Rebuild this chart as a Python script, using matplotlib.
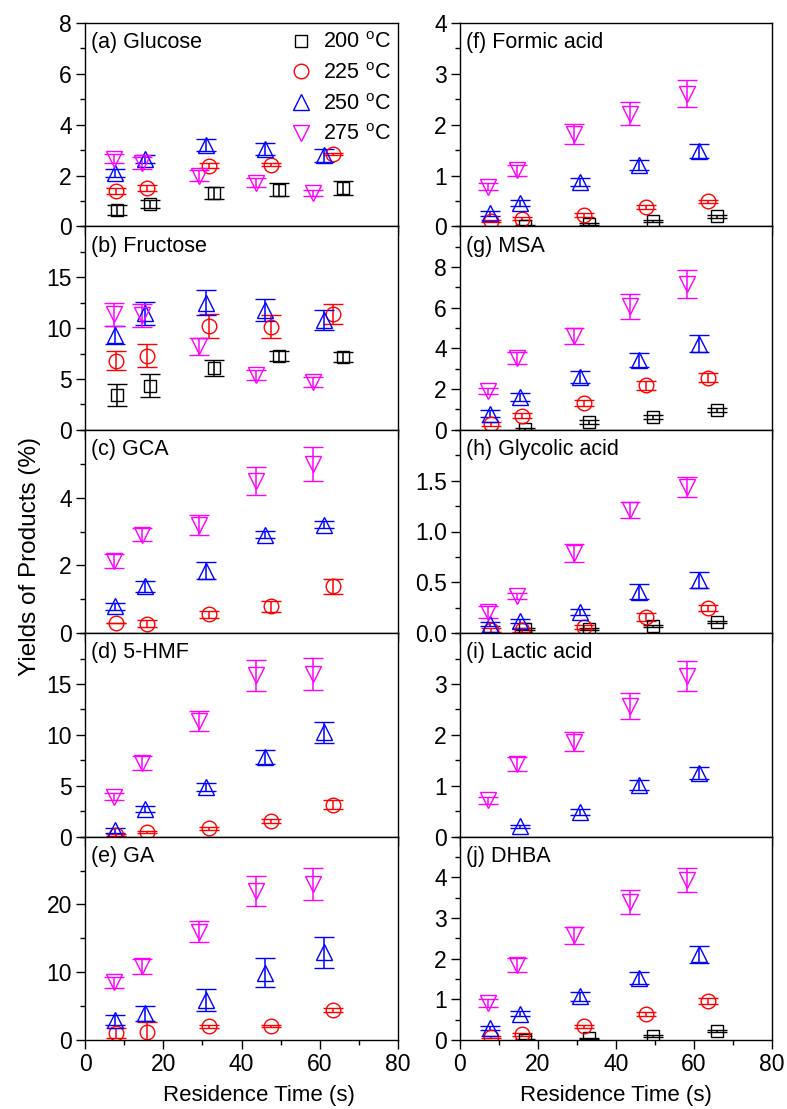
import numpy as np
import matplotlib
matplotlib.use("Agg")
import matplotlib.pyplot as plt
from matplotlib.ticker import MultipleLocator, FixedLocator, FormatStrFormatter
from matplotlib.lines import Line2D

plt.rcParams['font.family'] = ['Liberation Sans', 'DejaVu Sans']
plt.rcParams['mathtext.default'] = 'regular'

nan = np.nan

# Reaction temperatures and their plotting styles
temperatures = ['200', '225', '250', '275']
colors = ['#000000', '#ff0000', '#0000ff', '#ff00ff']
markers = ['s', 'o', '^', 'v']
marker_sizes = [9, 10.5, 12, 12]

# Residence times (s) at each temperature
time_200 = [8.3, 16.6, 33.0, 49.6, 66.0]
time_225 = [7.9, 15.8, 31.8, 47.6, 63.5]
time_250 = [7.7, 15.4, 30.8, 46.0, 61.2]
time_275 = [7.3, 14.6, 29.2, 43.7, 58.2]
times = [time_200, time_225, time_250, time_275]

# Product yields (%) and standard deviations; rows = 200, 225, 250, 275 °C
glucose = [[0.65, 0.89, 1.31, 1.44, 1.51],
           [1.38, 1.51, 2.39, 2.43, 2.85],
           [2.10, 2.65, 3.19, 3.04, 2.80],
           [2.67, 2.49, 2.00, 1.72, 1.30]]
glucose_err = [[0.20, 0.15, 0.22, 0.25, 0.27],
               [0.12, 0.13, 0.10, 0.05, 0.03],
               [0.16, 0.15, 0.23, 0.24, 0.26],
               [0.19, 0.22, 0.20, 0.18, 0.12]]

fructose = [[3.4, 4.35, 6.1, 7.25, 7.15],
            [6.8, 7.3, 10.2, 10.15, 11.4],
            [9.35, 11.45, 12.5, 11.8, 10.8],
            [11.35, 11.25, 8.2, 5.35, 4.7]]
fructose_err = [[1.1, 1.1, 0.8, 0.5, 0.5],
                [0.9, 1.1, 1.2, 1.1, 1.0],
                [0.9, 1.1, 1.2, 1.1, 1.0],
                [1.1, 1.1, 0.8, 0.5, 0.45]]

gca = [[nan, nan, nan, nan, nan],
       [0.31, 0.28, 0.56, 0.79, 1.38],
       [0.79, 1.39, 1.84, 2.91, 3.20],
       [2.13, 2.91, 3.20, 4.49, 4.98]]
gca_err = [[0, 0, 0, 0, 0],
           [0.0, 0.10, 0.10, 0.15, 0.22],
           [0.10, 0.16, 0.25, 0.11, 0.10],
           [0.20, 0.20, 0.30, 0.40, 0.50]]

hmf = [[nan, nan, nan, nan, nan],
       [0.2, 0.45, 0.8, 1.55, 3.15],
       [0.6, 2.75, 4.87, 7.8, 10.25],
       [3.9, 7.2, 11.35, 15.85, 16.0]]
hmf_err = [[0, 0, 0, 0, 0],
           [0.1, 0.1, 0.15, 0.2, 0.4],
           [0.2, 0.3, 0.4, 0.7, 1.0],
           [0.35, 0.7, 1.0, 1.5, 1.55]]

ga = [[nan, nan, nan, nan, nan],
      [1.0, 1.2, 2.0, 2.0, 4.45],
      [2.95, 3.95, 5.9, 9.95, 12.95],
      [8.5, 10.9, 16.0, 22.0, 23.0]]
ga_err = [[0, 0, 0, 0, 0],
          [0.7, 1.5, 0.2, 0.15, 0.3],
          [0.8, 1.1, 1.6, 2.2, 2.3],
          [0.8, 1.1, 1.6, 2.2, 2.3]]

formic = [[nan, 0.0, 0.05, 0.11, 0.20],
          [0.11, 0.15, 0.23, 0.38, 0.49],
          [0.26, 0.46, 0.87, 1.20, 1.49],
          [0.78, 1.10, 1.82, 2.22, 2.61]]
formic_err = [[0, 0.02, 0.02, 0.02, 0.03],
              [0.02, 0.03, 0.04, 0.04, 0.03],
              [0.05, 0.06, 0.08, 0.10, 0.14],
              [0.07, 0.10, 0.19, 0.22, 0.26]]

msa = [[nan, 0.05, 0.38, 0.63, 0.96],
       [0.30, 0.69, 1.31, 2.18, 2.57],
       [0.78, 1.60, 2.58, 3.45, 4.23],
       [1.92, 3.53, 4.62, 6.07, 7.18]]
msa_err = [[0, 0.05, 0.08, 0.08, 0.10],
           [0.10, 0.12, 0.15, 0.20, 0.22],
           [0.17, 0.20, 0.29, 0.34, 0.42],
           [0.14, 0.30, 0.40, 0.60, 0.70]]

glycolic = [[nan, 0.04, 0.04, 0.07, 0.11],
            [0.03, 0.03, 0.065, 0.16, 0.245],
            [0.09, 0.12, 0.21, 0.41, 0.52],
            [0.21, 0.37, 0.79, 1.21, 1.44]]
glycolic_err = [[0, 0.01, 0.01, 0.01, 0.01],
                [0.02, 0.02, 0.02, 0.04, 0.03],
                [0.02, 0.02, 0.03, 0.07, 0.08],
                [0.06, 0.03, 0.09, 0.08, 0.10]]

lactic = [[nan, nan, nan, nan, nan],
          [nan, nan, nan, nan, nan],
          [nan, 0.20, 0.49, 1.02, 1.25],
          [0.71, 1.43, 1.87, 2.57, 3.16]]
lactic_err = [[0, 0, 0, 0, 0],
              [0, 0, 0, 0, 0],
              [0, 0.03, 0.06, 0.10, 0.12],
              [0.07, 0.14, 0.18, 0.25, 0.30]]

dhba = [[nan, 0.0, 0.04, 0.10, 0.22],
        [0.07, 0.14, 0.34, 0.64, 0.96],
        [0.29, 0.65, 1.07, 1.52, 2.11],
        [0.90, 1.84, 2.57, 3.39, 3.93]]
dhba_err = [[0, 0.02, 0.02, 0.02, 0.03],
            [0.03, 0.04, 0.04, 0.05, 0.07],
            [0.05, 0.07, 0.10, 0.15, 0.21],
            [0.10, 0.18, 0.20, 0.30, 0.30]]

panel_titles = ['(a) Glucose', '(b) Fructose', '(c) GCA', '(d) 5-HMF', '(e) GA',
                '(f) Formic acid', '(g) MSA', '(h) Glycolic acid', '(i) Lactic acid', '(j) DHBA']
panel_data = [glucose, fructose, gca, hmf, ga, formic, msa, glycolic, lactic, dhba]
panel_err = [glucose_err, fructose_err, gca_err, hmf_err, ga_err,
             formic_err, msa_err, glycolic_err, lactic_err, dhba_err]
# (upper limit, major step, minor step, tick format)
panel_axes = [(8, 2, 1, '%g'), (20, 5, 2.5, '%g'), (6, 2, 1, '%g'), (20, 5, 2.5, '%g'), (30, 10, 5, '%g'),
              (4, 1, 0.5, '%g'), (10, 2, 1, '%g'), (2, 0.5, 0.25, '%.1f'), (4, 1, 0.5, '%g'), (5, 1, 0.5, '%g')]

W, H = 787, 1109
fig = plt.figure(figsize=(W / 100, H / 100), dpi=100)

col_left = [85, 460]
col_right = [398, 772]
top_px, bottom_px = 23, 1040
row_h = (bottom_px - top_px) / 5

tick_fs = 16.5
label_fs = 15.5

axes = []
for k in range(10):
    col, row = divmod(k, 5)
    left = col_left[col] / W
    width = (col_right[col] - col_left[col]) / W
    bottom = 1 - (top_px + (row + 1) * row_h) / H
    ax = fig.add_axes([left, bottom, width, row_h / H])
    axes.append(ax)

    for t in range(4):
        ax.errorbar(times[t], panel_data[k][t], yerr=panel_err[k][t],
                    fmt=markers[t], color=colors[t], mfc='none', mec=colors[t],
                    ms=marker_sizes[t], mew=1.0, elinewidth=1.1,
                    capsize=7.5, capthick=1.1)

    ytop, major, minor, fmt = panel_axes[k]
    ax.set_xlim(0, 80)
    ax.set_ylim(0, ytop)
    n = int(round(ytop / major))
    ticks = [i * major for i in range(n + 1)]
    if row > 0:
        ticks = ticks[:-1]
    ax.yaxis.set_major_locator(FixedLocator(ticks))
    ax.yaxis.set_minor_locator(MultipleLocator(minor))
    ax.yaxis.set_major_formatter(FormatStrFormatter(fmt))
    ax.xaxis.set_major_locator(MultipleLocator(20))
    ax.xaxis.set_minor_locator(MultipleLocator(10))
    ax.tick_params(which='both', direction='out', top=False, right=False,
                   labelsize=tick_fs, width=1.0)
    ax.tick_params(which='major', length=6.5, pad=3)
    ax.tick_params(which='minor', length=3.5)
    if row < 4:
        ax.tick_params(axis='x', labelbottom=False)
    for s in ax.spines.values():
        s.set_linewidth(1.0)
    ax.text(0.018, 0.955, panel_titles[k], transform=ax.transAxes,
            ha='left', va='top', fontsize=label_fs)

# Temperature legend in the glucose panel
handles = [Line2D([], [], ls='none', marker=markers[t], color=colors[t], mfc='none',
                  ms=marker_sizes[t], mew=1.0) for t in range(4)]
labels = [f'{T} $^{{o}}$C' for T in temperatures]
axes[0].legend(handles, labels, loc='upper left', bbox_to_anchor=(0.655, 0.955),
               frameon=False, fontsize=label_fs, handlelength=1.0,
               handletextpad=0.55, labelspacing=0.45, borderpad=0, borderaxespad=0)

fig.text(30 / W, 1 - 556 / H, 'Yields of Products (%)', rotation=90,
         ha='center', va='center', fontsize=17.5)
fig.text(259 / W, 1 - 1096 / H, 'Residence Time (s)', ha='center', va='center', fontsize=16)
fig.text(616 / W, 1 - 1096 / H, 'Residence Time (s)', ha='center', va='center', fontsize=16)

fig.savefig('out.png', dpi=100)
